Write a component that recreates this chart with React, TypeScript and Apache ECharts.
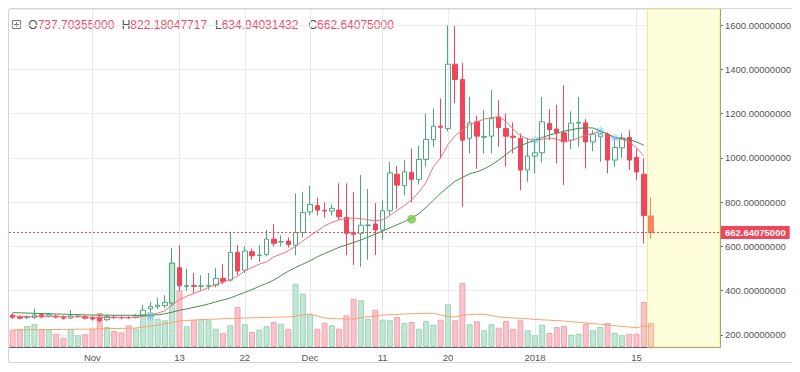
import React, { useEffect, useRef } from 'react';
import * as echarts from 'echarts';

// ---- categories: one per day, Oct 21 2017 .. Jan 26 2018 (last 9 days empty) ----
const dayCount = 98;
const dates: string[] = [];
for (let i = 0; i < dayCount; i++) {
  dates.push(new Date(Date.UTC(2017, 9, 21 + i)).toISOString().slice(0, 10));
}

const tickDates = ['2017-11-01', '2017-11-13', '2017-11-22', '2017-12-01', '2017-12-11', '2017-12-20', '2018-01-01', '2018-01-15'];
const tickTexts = ['Nov', '13', '22', 'Dec', '11', '20', '2018', '15'];

// ---- OHLC ----
const opens = [
  290, 281, 279, 278, 292, 285, 286, 281, 276, 284,
  283, 279, 276, 269, 281, 280, 279, 278, 290, 318,
  328, 333, 344, 504, 420, 423, 420, 421, 425, 456,
  448, 573, 493, 576, 559, 564, 633, 620, 624, 606,
  663, 756, 784, 763, 760, 764, 731, 662, 659, 694,
  701, 674, 761, 926, 874, 934, 903, 993, 1083, 1143,
  1132, 1423, 1354, 1088, 1163, 1093, 1098, 1185, 1132, 1098,
  1088, 945, 1008, 1023, 1155, 1130, 1113, 1080, 1157, 1158,
  1072, 1095, 1107, 990, 1045, 1092, 1002, 926, 737.70355,
];
const closes = [
  280, 276, 281, 290, 281, 292, 281, 276, 286, 285,
  276, 272, 266, 283, 278, 277, 277, 286, 312, 328,
  335, 346, 525, 422, 423, 420, 422, 424, 456, 442,
  573, 489, 579, 558, 561, 633, 614, 622, 609, 663,
  753, 790, 764, 760, 772, 734, 659, 655, 696, 697,
  674, 761, 932, 877, 937, 903, 993, 1083, 1143, 1138,
  1423, 1354, 1080, 1158, 1098, 1097, 1177, 1137, 1098, 1093,
  945, 1008, 1023, 1163, 1128, 1112, 1072, 1157, 1160, 1072,
  1107, 1108, 990, 1047, 1090, 990, 936, 740, 662.64075,
];
const lows = [
  272, 270, 272, 274, 276, 279, 275, 270, 272, 278,
  270, 266, 255, 262, 272, 271, 272, 274, 284, 305,
  318, 322, 330, 400, 400, 390, 400, 405, 415, 430,
  440, 470, 480, 540, 530, 555, 600, 600, 595, 560,
  640, 740, 740, 730, 740, 720, 561, 516, 508, 540,
  561, 630, 740, 770, 830, 800, 880, 960, 1050, 1000,
  1120, 1247, 779, 1020, 950, 1020, 1020, 1050, 960, 1020,
  854, 892, 930, 980, 1080, 975, 877, 1040, 1050, 952,
  1030, 982, 930, 960, 1000, 945, 900, 614, 634.94031432,
];
const highs = [
  298, 288, 290, 320, 298, 300, 292, 288, 313, 292,
  290, 286, 290, 292, 288, 286, 285, 295, 335, 350,
  368, 380, 593, 605, 500, 480, 470, 480, 502, 520,
  666, 606, 600, 590, 605, 675, 700, 650, 640, 839,
  847, 874, 820, 800, 790, 885, 885, 845, 922, 860,
  795, 808, 982, 963, 990, 1042, 1055, 1200, 1222, 1268,
  1599, 1595, 1430, 1276, 1190, 1215, 1306, 1260, 1200, 1160,
  1110, 1090, 1080, 1275, 1220, 1240, 1328, 1210, 1275, 1175,
  1125, 1125, 1115, 1085, 1110, 1125, 1040, 997, 822.18047717,
];

// ---- volume (arbitrary units) ----
const volumes = [
  17300, 18000, 21000, 22700, 18000, 16700, 13300, 9300, 18000, 11700,
  12700, 18000, 34000, 20000, 16000, 14700, 21700, 18300, 31700, 35000,
  28300, 26700, 84000, 56700, 20700, 26700, 27700, 26700, 18300, 14000,
  21700, 40000, 22700, 15000, 17300, 20700, 25000, 23300, 18300, 63300,
  53300, 33300, 18300, 24300, 21700, 18300, 31700, 48300, 46700, 28300,
  37300, 27300, 26700, 30000, 24000, 25000, 18300, 26000, 22300, 27300,
  42700, 26700, 64000, 22700, 25700, 16700, 22700, 19300, 26000, 18300,
  26700, 16700, 11700, 22300, 14000, 20000, 21000, 12300, 13300, 23300,
  16700, 20000, 24000, 14000, 11700, 13300, 13300, 45000, 24000,
];
const volumeMA = [
  17000, 17000, 17200, 17300, 17400, 17500, 17500, 17600, 17700, 17800,
  17900, 18000, 18200, 18400, 18500, 18600, 18700, 19000, 20000, 21000,
  22000, 23500, 24500, 26000, 26500, 27000, 27300, 27600, 27900, 28200,
  28500, 28800, 29000, 29200, 29400, 29600, 29800, 30000, 30000, 31000,
  32000, 32700, 31000, 29000, 28500, 28200, 28000, 28000, 29500, 30300,
  31000, 31800, 32300, 32700, 33000, 33300, 33500, 33700, 33700, 32000,
  30500, 30000, 32000, 32500, 32700, 32700, 31500, 30000, 29500, 29000,
  28600, 28200, 27500, 27200, 26800, 26400, 26000, 25300, 24700, 24000,
  23400, 22700, 22000, 21300, 20600, 20000, 19300, 21000, 21000,
];

// ---- moving averages ----
const maFast = [
  286, 285, 284, 284, 284, 284, 283, 283, 282, 282,
  281, 280, 279, 279, 279, 279, 279, 280, 284, 291,
  299, 310, 335, 360, 375, 388, 400, 415, 428, 438,
  450, 465, 490, 505, 520, 530, 553, 565, 580, 600,
  625, 648, 670, 693, 708, 720, 727, 728, 725, 720,
  716, 720, 740, 762, 785, 810, 845, 890, 960, 1000,
  1060, 1100, 1125, 1150, 1163, 1175, 1182, 1185, 1165, 1130,
  1100, 1085, 1080, 1083, 1090, 1085, 1073, 1078, 1090, 1102,
  1110, 1120, 1108, 1090, 1083, 1072, 1045, 1010, null,
];
const maSlow = [
  301, 300, 299, 298, 297, 296, 295, 294, 293, 292,
  291, 290, 290, 290, 289, 289, 289, 289, 289, 290,
  291, 296, 303, 312, 318, 325, 332, 340, 350, 358,
  367, 380, 392, 405, 420, 433, 448, 468, 488, 505,
  520, 535, 553, 568, 582, 596, 607, 618, 629, 642,
  656, 670, 684, 698, 712, 728, 748, 777, 809, 840,
  868, 895, 912, 928, 937, 950, 968, 990, 1015, 1040,
  1055, 1068, 1080, 1092, 1103, 1112, 1120, 1127, 1133, 1136,
  1135, 1122, 1108, 1092, 1087, 1083, 1072, 1057, null,
];

// ---- markers ----
const crossDates = ['2017-11-09', '2018-01-01', '2018-01-10', '2018-01-12'];
const crossValues = [284, 1080, 1121, 1090];
const signalDates = ['2017-12-15'];
const signalValues = [723];

const futureStart = '2018-01-17';
const futureEnd = '2018-01-26';

const UP = '#4aa97c';
const DOWN = '#f0455a';
const LAST = '#f7865c';
const FONT = '"Liberation Sans", Arial, sans-serif';

const STAR =
  'path://M45,0 L55,0 L55,100 L45,100 Z M0,45 L100,45 L100,55 L0,55 Z M11.5,18.6 L18.6,11.5 L88.5,81.4 L81.4,88.5 Z M81.4,11.5 L88.5,18.6 L18.6,88.5 L11.5,81.4 Z';

export default function App() {
  const ref = useRef<HTMLDivElement>(null);

  useEffect(() => {
    if (!ref.current) return;
    const chart = echarts.init(ref.current, undefined, { renderer: 'svg' });
    const n = opens.length;
    const last = n - 1;

    const candleData = opens.map((o, i) => {
      const v = [o, closes[i], lows[i], highs[i]];
      if (i === last) {
        return { value: v, itemStyle: { color0: LAST, borderColor0: LAST, color: LAST, borderColor: LAST } };
      }
      return v;
    });

    const volData = volumes.map((v, i) => {
      const up = closes[i] >= opens[i];
      let fill = up ? '#c2e7d5' : '#f8c3ca';
      let border = up ? '#9ad3b8' : '#f0a5af';
      if (i === last) {
        fill = '#f9d3bb';
        border = '#f4b48f';
      }
      return { value: v, itemStyle: { color: fill, borderColor: border, borderWidth: 1 } };
    });

    const isTick = (_idx: number, value: string) => tickDates.indexOf(value) >= 0;

    const option: any = {
      animation: false,
      textStyle: { fontFamily: FONT },
      grid: { left: 0, right: 74, top: 0, bottom: 15, containLabel: false },
      xAxis: {
        type: 'category',
        data: dates,
        boundaryGap: true,
        axisLine: { show: true, lineStyle: { color: '#666', width: 1 } },
        axisTick: { show: false, interval: 0, alignWithLabel: false },
        axisLabel: {
          interval: isTick,
          formatter: (v: string) => {
            const k = tickDates.indexOf(v);
            return k >= 0 ? tickTexts[k] : '';
          },
          color: '#555',
          fontSize: 9.5,
          margin: 5,
        },
        splitLine: {
          show: true,
          alignWithLabel: true,
          interval: isTick,
          lineStyle: { color: '#e5eaee', width: 1 },
        },
      },
      yAxis: [
        {
          type: 'value',
          position: 'right',
          min: 145.8,
          max: 1672.3,
          minInterval: 200,
          maxInterval: 200,
          axisLine: { show: true, lineStyle: { color: '#666', width: 1 } },
          axisTick: { show: true, length: 3, lineStyle: { color: '#666' } },
          axisLabel: {
            color: '#555',
            fontSize: 9.5,
            margin: 5,
            showMinLabel: false,
            showMaxLabel: false,
            formatter: (v: number) => (Math.abs(v % 200) < 1e-6 ? v.toFixed(8) : ''),
          },
          splitLine: { show: true, lineStyle: { color: '#e8ecef', width: 1 } },
        },
        {
          type: 'value',
          min: 0,
          max: 338000,
          show: false,
          splitLine: { show: false },
        },
      ],
      series: [
        {
          type: 'bar',
          name: 'volume',
          xAxisIndex: 0,
          yAxisIndex: 1,
          barWidth: 6,
          data: volData,
          z: 1,
          markArea: {
            silent: true,
            itemStyle: { color: '#fdfcdb', borderColor: '#f1ea86', borderWidth: 1 },
            data: [[{ xAxis: futureStart }, { xAxis: futureEnd }]],
          },
        },
        {
          type: 'line',
          name: 'volMA',
          yAxisIndex: 1,
          data: volumeMA,
          symbol: 'none',
          lineStyle: { color: '#f6a46c', width: 1 },
          z: 2,
        },
        {
          type: 'candlestick',
          name: 'price',
          yAxisIndex: 0,
          barWidth: 5,
          data: candleData,
          itemStyle: {
            color: 'rgba(0,0,0,0)',
            color0: DOWN,
            borderColor: UP,
            borderColor0: DOWN,
            borderWidth: 1,
          },
          z: 3,
          markLine: {
            silent: true,
            symbol: ['none', 'none'],
            data: [{ yAxis: closes[last] }],
            lineStyle: { color: DOWN, type: [2, 2], width: 1 },
            label: {
              show: true,
              position: 'end',
              distance: 1,
              formatter: () => closes[last].toFixed(8),
              color: '#fff',
              backgroundColor: DOWN,
              padding: [2, 4, 1, 4],
              fontSize: 9.5,
              fontWeight: 'bold',
            },
          },
        },
        {
          type: 'line',
          name: 'MA fast',
          yAxisIndex: 0,
          data: maFast,
          symbol: 'none',
          lineStyle: { color: '#f2707f', width: 1 },
          z: 4,
        },
        {
          type: 'line',
          name: 'MA slow',
          yAxisIndex: 0,
          data: maSlow,
          symbol: 'none',
          lineStyle: { color: '#3e9152', width: 1 },
          z: 4,
        },
        {
          type: 'scatter',
          name: 'cross',
          yAxisIndex: 0,
          symbol: STAR,
          symbolSize: 9,
          itemStyle: { color: '#72bdf0' },
          data: crossDates.map((d, i) => [d, crossValues[i]]),
          z: 5,
        },
        {
          type: 'scatter',
          name: 'signal',
          yAxisIndex: 0,
          symbol: 'circle',
          symbolSize: 9,
          itemStyle: { color: '#7cc446' },
          data: signalDates.map((d, i) => [d, signalValues[i]]),
          z: 5,
        },
      ],
      graphic: [
        {
          type: 'group',
          z: 100,
          children: [
            { type: 'rect', shape: { x: 3.5, y: 11.5, width: 8, height: 8 }, style: { fill: '#fff', stroke: '#777', lineWidth: 1 } },
            { type: 'line', shape: { x1: 7.5, y1: 13, x2: 7.5, y2: 18 }, style: { stroke: '#777', lineWidth: 1 } },
            { type: 'line', shape: { x1: 5, y1: 15.5, x2: 10, y2: 15.5 }, style: { stroke: '#777', lineWidth: 1 } },
            ...[
              ['O', opens[last], 19.3],
              ['H', highs[last], 112.7],
              ['L', lows[last], 206],
              ['C', closes[last], 299.4],
            ].map(([k, v, x]) => ({
              type: 'text',
              x: x as number,
              y: 15.5,
              style: {
                text: `{k|${k}}{v|${(v as number).toFixed(8)}}`,
                font: `12px ${FONT}`,
                verticalAlign: 'middle',
                rich: {
                  k: { fill: '#555', font: `12px ${FONT}` },
                  v: { fill: '#ef4d5e', font: `12px ${FONT}` },
                },
              },
            })),
          ],
        },
      ],
    };

    chart.setOption(option);
    return () => chart.dispose();
  }, []);

  return (
    <div
      style={{
        width: 787,
        height: 355,
        border: '1px solid #d5d5d5',
        borderRadius: 3,
        boxShadow: '0 1px 3px rgba(0,0,0,0.18)',
        boxSizing: 'border-box',
        background: '#fff',
      }}
    >
      <div ref={ref} style={{ width: '100%', height: '100%' }} />
    </div>
  );
}
